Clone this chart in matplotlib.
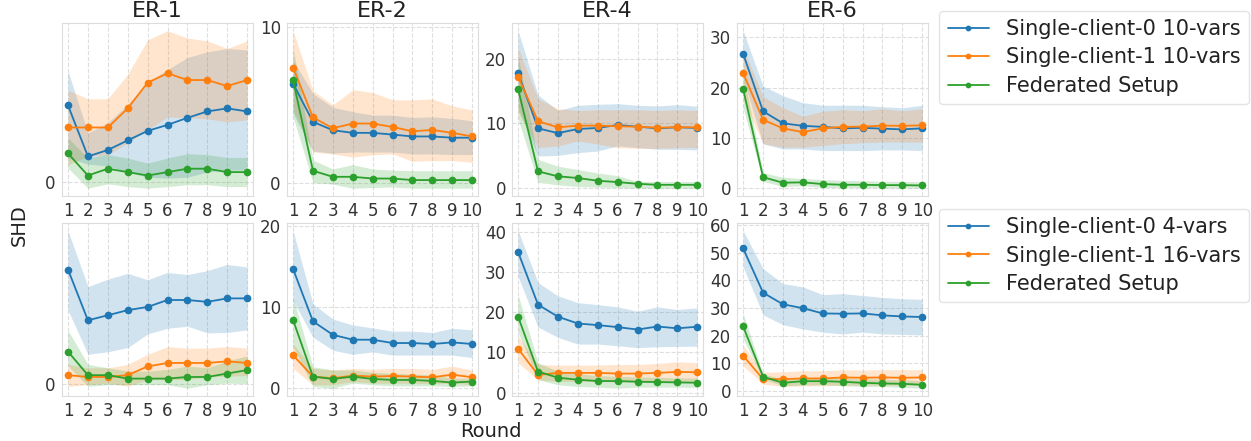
import matplotlib
matplotlib.use("Agg")
import matplotlib.pyplot as plt
from matplotlib.ticker import MultipleLocator
import seaborn as sns

rounds = [1, 2, 3, 4, 5, 6, 7, 8, 9, 10]
titles = ["ER-1", "ER-2", "ER-4", "ER-6"]
labels_top = ["Single-client-0 10-vars", "Single-client-1 10-vars", "Federated Setup"]
labels_bot = ["Single-client-0 4-vars", "Single-client-1 16-vars", "Federated Setup"]

# ---- Top row (10-vars / 10-vars) : [client-0, client-1, federated] ----
er1_top_mean = [[3.82, 1.28, 1.6, 2.08, 2.55, 2.85, 3.2, 3.52, 3.67, 3.52],
                [2.72, 2.72, 2.72, 3.67, 4.95, 5.42, 5.08, 5.08, 4.78, 5.08],
                [1.43, 0.33, 0.67, 0.5, 0.33, 0.5, 0.67, 0.67, 0.5, 0.5]]
er1_top_hi = [[5.53, 2.45, 2.95, 3.87, 4.95, 5.6, 6.2, 6.48, 6.65, 6.58],
              [4.58, 4.15, 4.15, 5.37, 7.08, 7.53, 7.17, 7.03, 6.65, 7.03],
              [2.2, 1.2, 1.37, 1.2, 0.95, 1.2, 1.42, 1.37, 1.23, 1.23]]
er1_top_lo = [[1.2, 0.9, 0.8, 0.5, 0.25, 0.2, 0.25, 0.5, 0.6, 0.6],
              [0.87, 1.28, 1.35, 1.95, 2.6, 3.25, 3.2, 3.15, 3.0, 3.1],
              [0.7, -0.3, -0.08, -0.22, -0.3, -0.22, -0.13, -0.13, -0.22, -0.22]]

er2_top_mean = [[6.39, 3.94, 3.4, 3.23, 3.23, 3.12, 3.0, 3.0, 2.92, 2.92],
                [7.42, 4.22, 3.53, 3.83, 3.83, 3.61, 3.33, 3.42, 3.23, 3.0],
                [6.6, 0.8, 0.41, 0.41, 0.3, 0.3, 0.2, 0.2, 0.2, 0.2]]
er2_top_hi = [[7.9, 5.74, 4.87, 4.59, 4.37, 4.37, 4.22, 4.26, 4.16, 4.0],
              [9.78, 5.95, 5.02, 6.0, 5.82, 5.35, 5.35, 5.41, 4.96, 4.7],
              [8.7, 1.49, 0.91, 1.19, 0.91, 0.84, 0.8, 0.8, 0.8, 0.8]]
er2_top_lo = [[4.48, 2.06, 1.93, 2.0, 2.0, 2.0, 1.88, 1.88, 1.84, 1.84],
              [4.7, 2.0, 1.88, 1.67, 1.82, 1.88, 1.4, 1.45, 1.45, 1.34],
              [4.26, 0.04, -0.06, -0.32, -0.28, -0.24, -0.32, -0.32, -0.32, -0.32]]

er4_top_mean = [[17.75, 9.24, 8.5, 9.14, 9.3, 9.76, 9.5, 9.24, 9.4, 9.3],
                [17.2, 10.34, 9.4, 9.66, 9.66, 9.56, 9.5, 9.35, 9.4, 9.4],
                [15.3, 2.6, 1.83, 1.57, 1.15, 0.94, 0.68, 0.52, 0.52, 0.52]]
er4_top_hi = [[24.3, 14.4, 12.0, 12.8, 12.95, 13.05, 12.8, 12.7, 12.9, 12.64],
              [21.7, 13.8, 12.27, 12.0, 12.1, 12.1, 12.1, 12.0, 12.1, 12.0],
              [20.4, 4.44, 3.4, 2.87, 2.35, 1.93, 1.04, 1.04, 1.04, 1.04]]
er4_top_lo = [[12.3, 4.96, 5.07, 5.48, 5.74, 6.53, 6.27, 6.0, 6.0, 5.9],
              [11.7, 6.27, 6.53, 7.3, 6.8, 6.27, 6.16, 6.16, 6.27, 6.27],
              [10.7, 0.89, 0.52, 0.26, 0.16, 0.1, 0.0, 0.0, 0.0, 0.0]]

er6_top_mean = [[26.7, 15.3, 12.9, 12.4, 12.2, 11.9, 12.0, 11.84, 11.7, 11.9],
                [22.9, 13.6, 11.9, 11.16, 11.9, 12.2, 12.24, 12.45, 12.4, 12.5],
                [19.7, 2.18, 1.09, 1.16, 0.82, 0.68, 0.68, 0.61, 0.61, 0.54]]
er6_top_hi = [[31.3, 20.3, 18.4, 17.0, 16.5, 16.5, 16.5, 16.2, 16.0, 16.5],
              [27.9, 18.2, 16.0, 14.3, 15.3, 15.6, 15.4, 15.8, 15.4, 15.8],
              [22.8, 3.06, 2.18, 1.9, 1.7, 1.56, 1.5, 1.36, 1.36, 1.29]]
er6_top_lo = [[21.8, 8.8, 7.8, 7.8, 7.48, 7.48, 7.48, 7.6, 7.6, 7.48],
              [17.7, 8.84, 8.16, 8.16, 8.5, 8.84, 9.05, 9.18, 9.18, 9.18],
              [16.0, 1.36, 0.34, 0.48, 0.14, 0.14, 0.14, 0.07, 0.07, 0.0]]

# ---- Bottom row (4-vars / 16-vars) ----
er1_bot_mean = [[5.62, 3.12, 3.37, 3.62, 3.78, 4.12, 4.12, 4.03, 4.2, 4.2],
                [0.42, 0.33, 0.33, 0.42, 0.85, 1.02, 1.02, 1.02, 1.1, 1.02],
                [1.58, 0.42, 0.42, 0.25, 0.25, 0.25, 0.33, 0.33, 0.5, 0.67]]
er1_bot_hi = [[7.53, 4.78, 5.15, 5.43, 5.12, 5.48, 5.37, 5.57, 5.87, 5.75],
              [0.95, 0.78, 0.78, 0.95, 1.45, 1.82, 1.75, 1.75, 1.83, 1.75],
              [2.62, 0.95, 0.78, 0.62, 0.62, 0.7, 0.87, 0.78, 1.12, 1.37]]
er1_bot_lo = [[3.62, 1.45, 1.57, 1.78, 2.45, 2.73, 2.83, 2.5, 2.52, 2.65],
              [-0.13, -0.05, 0.03, -0.13, 0.2, 0.2, 0.2, 0.33, 0.37, 0.4],
              [0.87, -0.13, -0.05, -0.05, -0.05, -0.05, -0.22, -0.05, 0.03, 0.0]]

er2_bot_mean = [[14.7, 8.26, 6.6, 6.0, 6.0, 5.59, 5.59, 5.47, 5.67, 5.47],
                [4.09, 1.46, 1.26, 1.58, 1.46, 1.54, 1.46, 1.38, 1.7, 1.38],
                [8.42, 1.46, 1.17, 1.46, 1.17, 1.05, 1.05, 0.93, 0.73, 0.85]]
er2_bot_hi = [[19.4, 10.4, 8.54, 7.81, 7.45, 7.05, 7.05, 6.88, 7.41, 7.2],
              [5.5, 2.47, 2.27, 2.47, 2.35, 2.47, 2.47, 2.35, 2.75, 2.27],
              [11.2, 2.67, 2.27, 2.27, 1.98, 1.86, 1.78, 1.66, 1.26, 1.26]]
er2_bot_lo = [[10.8, 6.3, 4.7, 4.2, 4.5, 4.1, 4.1, 4.1, 4.1, 3.8],
              [2.47, 0.45, 0.45, 0.85, 0.65, 0.65, 0.65, 0.57, 0.65, 0.45],
              [5.1, 0.24, 0.04, 0.65, 0.45, 0.32, 0.32, 0.32, 0.24, 0.32]]

er4_bot_mean = [[35.0, 21.9, 18.9, 17.2, 16.8, 16.3, 15.7, 16.45, 16.0, 16.4],
                [10.9, 4.39, 4.9, 4.9, 4.9, 4.73, 4.73, 4.9, 5.15, 5.06],
                [18.9, 5.23, 3.71, 3.2, 2.87, 2.87, 2.7, 2.62, 2.53, 2.45]]
er4_bot_hi = [[40.3, 27.4, 24.1, 22.4, 21.9, 21.35, 20.25, 21.35, 20.7, 21.1],
              [14.2, 7.0, 6.84, 6.84, 6.84, 7.0, 7.0, 7.26, 7.68, 7.43],
              [24.3, 7.43, 5.3, 4.73, 4.2, 4.05, 3.88, 3.8, 3.63, 3.63]]
er4_bot_lo = [[28.9, 16.3, 13.75, 12.07, 12.07, 11.65, 11.2, 11.4, 11.5, 11.55],
              [7.43, 3.2, 2.78, 2.78, 2.78, 2.6, 2.6, 2.53, 2.78, 2.78],
              [15.0, 3.2, 1.94, 1.52, 1.35, 1.1, 1.35, 1.35, 1.35, 1.27]]

er6_bot_mean = [[51.5, 35.5, 31.3, 29.9, 28.0, 27.9, 28.0, 27.3, 26.9, 26.7],
                [12.7, 4.24, 4.24, 4.48, 4.48, 4.85, 4.73, 4.85, 4.73, 4.85],
                [23.3, 5.1, 2.9, 3.5, 3.5, 3.27, 2.9, 2.67, 2.55, 2.18]]
er6_bot_hi = [[57.9, 44.2, 38.8, 37.6, 34.8, 35.15, 34.5, 33.8, 33.3, 33.1],
              [16.4, 6.67, 6.9, 7.27, 7.27, 7.64, 7.5, 7.64, 7.64, 7.64],
              [27.9, 6.06, 4.24, 4.85, 4.85, 4.6, 4.24, 4.24, 4.0, 3.64]]
er6_bot_lo = [[44.8, 27.5, 23.9, 22.4, 21.2, 20.6, 21.2, 20.6, 20.4, 20.2],
              [9.1, 2.42, 1.58, 1.82, 1.82, 2.06, 2.06, 2.06, 2.06, 2.06],
              [18.8, 4.24, 1.82, 2.06, 2.18, 1.82, 1.58, 1.58, 1.2, 0.97]]

colors = ["#1f77b4", "#ff7f0e", "#2ca02c"]

sns.set_style("whitegrid", {"grid.linestyle": "--", "axes.edgecolor": ".85", "grid.color": ".87"})
plt.rcParams["font.family"] = ["DejaVu Sans"]

fig, axes = plt.subplots(2, 4, figsize=(12.51, 4.41), dpi=100)
fig.subplots_adjust(left=0.0496, right=0.742, top=0.948, bottom=0.102, wspace=0.178, hspace=0.155)

panels = [
    [(er1_top_mean, er1_top_lo, er1_top_hi), (er2_top_mean, er2_top_lo, er2_top_hi),
     (er4_top_mean, er4_top_lo, er4_top_hi), (er6_top_mean, er6_top_lo, er6_top_hi)],
    [(er1_bot_mean, er1_bot_lo, er1_bot_hi), (er2_bot_mean, er2_bot_lo, er2_bot_hi),
     (er4_bot_mean, er4_bot_lo, er4_bot_hi), (er6_bot_mean, er6_bot_lo, er6_bot_hi)],
]

for r in range(2):
    labels = labels_top if r == 0 else labels_bot
    for c in range(4):
        ax = axes[r, c]
        mean, lo, hi = panels[r][c]
        for k in range(3):
            ax.fill_between(rounds, lo[k], hi[k], color=colors[k], alpha=0.2, linewidth=0)
            ax.plot(rounds, mean[k], color=colors[k], marker="o", markersize=4.5,
                    linewidth=1.3, label=labels[k])
        ax.set_xticks(rounds)
        ax.yaxis.set_major_locator(MultipleLocator(10))
        ax.tick_params(axis="both", labelsize=12, pad=1, colors="#333333")
        ax.set_xlim(0.7, 10.3)
        for sp in ax.spines.values():
            sp.set_color("#dddddd")
        if r == 0:
            ax.set_title(titles[c], fontsize=16, color="#222222", pad=4)
    leg = axes[r, 3].legend(loc="upper left", bbox_to_anchor=(1.058, 1.07 if r == 0 else 1.08),
                            fontsize=15, frameon=True, handlelength=2.0, handletextpad=0.8,
                            markerscale=0.7, borderaxespad=0.0, labelspacing=0.4)
    leg.get_frame().set_edgecolor("#dddddd")
    for t in leg.get_texts():
        t.set_color("#222222")

fig.text(0.392, 0.0, "Round", fontsize=14, ha="center", va="bottom", color="#222222")
fig.text(0.008, 0.49, "SHD", fontsize=14, ha="left", va="center", rotation=90, color="#222222")

fig.savefig("out.png", dpi=100)
